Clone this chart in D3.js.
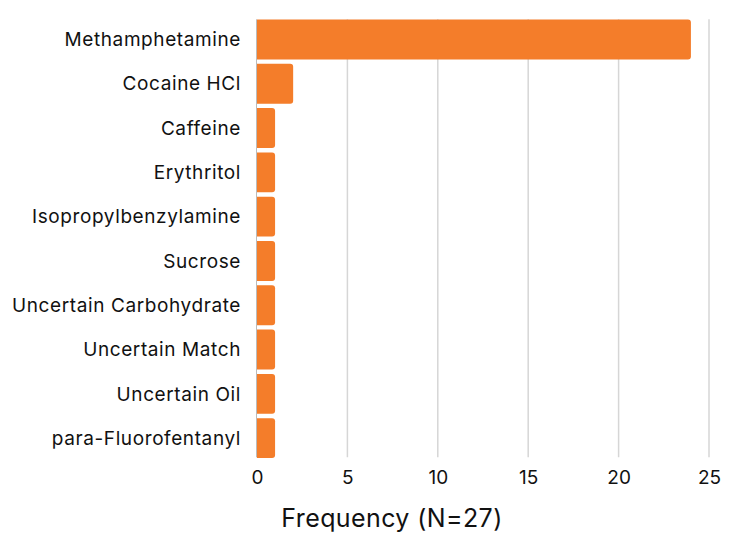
<!DOCTYPE html>
<meta charset="utf-8">
<style>
body { margin: 0; background: #fff; }
.tick text { font-family: Inter, "Noto Sans", sans-serif; fill: #111; }
</style>
<body>
<div id="chart"></div>
<script src="https://d3js.org/d3.v7.min.js"></script>
<script>
var substances = ["Methamphetamine", "Cocaine HCl", "Caffeine", "Erythritol",
  "Isopropylbenzylamine", "Sucrose", "Uncertain Carbohydrate", "Uncertain Match",
  "Uncertain Oil", "para-Fluorofentanyl"];
var counts = [24, 2, 1, 1, 1, 1, 1, 1, 1, 1];
var xTicks = [0, 5, 10, 15, 20, 25];

var W = 737, H = 535;
var plotLeft = 257, plotRight = 709, plotTop = 17.3, plotBottom = 460.3;

var svg = d3.select("#chart").append("svg")
  .attr("width", W).attr("height", H);

var x = d3.scaleLinear().domain([0, 25]).range([plotLeft, plotRight]);
var y = d3.scaleBand().domain(substances).range([plotTop, plotBottom])
  .paddingInner(0.1).paddingOuter(0.05);

// vertical grid
svg.append("g").selectAll("line")
  .data(xTicks.slice(1))
  .enter().append("line")
  .attr("x1", function(d) { return x(d); })
  .attr("x2", function(d) { return x(d); })
  .attr("y1", plotTop + 2).attr("y2", plotBottom - 3)
  .attr("stroke", "#d6d6d6").attr("stroke-width", 1.5);

// bars, rounded on the right end only
var r = 3;
svg.append("g").selectAll("path")
  .data(substances)
  .enter().append("path")
  .attr("fill", "#F47D2A")
  .attr("d", function(d, i) {
    var x0 = x(0), x1 = x(counts[i]), y0 = y(d), h = y.bandwidth();
    return "M" + x0 + "," + y0 + "H" + (x1 - r) +
      "Q" + x1 + "," + y0 + " " + x1 + "," + (y0 + r) +
      "V" + (y0 + h - r) +
      "Q" + x1 + "," + (y0 + h) + " " + (x1 - r) + "," + (y0 + h) +
      "H" + x0 + "Z";
  });

// y axis line
svg.append("line")
  .attr("x1", plotLeft - 0.5).attr("x2", plotLeft - 0.5)
  .attr("y1", plotTop + 2).attr("y2", plotBottom - 3)
  .attr("stroke", "#bbb").attr("stroke-width", 1);

// y labels
var ya = svg.append("g")
  .attr("transform", "translate(" + (plotLeft - 16) + ",0)")
  .call(d3.axisLeft(y).tickSize(0).tickPadding(0));
ya.select(".domain").remove();
ya.selectAll("text").style("font-size", "19px").style("letter-spacing", "0.6px")
  .attr("dy", "0.35em");

// x tick labels
var xa = svg.append("g")
  .attr("transform", "translate(0," + (plotBottom + 8) + ")")
  .call(d3.axisBottom(x).tickValues(xTicks).tickSize(0).tickPadding(0));
xa.select(".domain").remove();
xa.selectAll("text").style("font-size", "19px").attr("dy", "0.85em");

svg.append("text")
  .attr("x", 392).attr("y", 527)
  .attr("text-anchor", "middle")
  .attr("font-family", "Inter, 'Noto Sans', sans-serif")
  .attr("font-size", "25px")
  .attr("letter-spacing", "0.4px")
  .attr("fill", "#111")
  .text("Frequency (N=27)");
</script>
</body>
